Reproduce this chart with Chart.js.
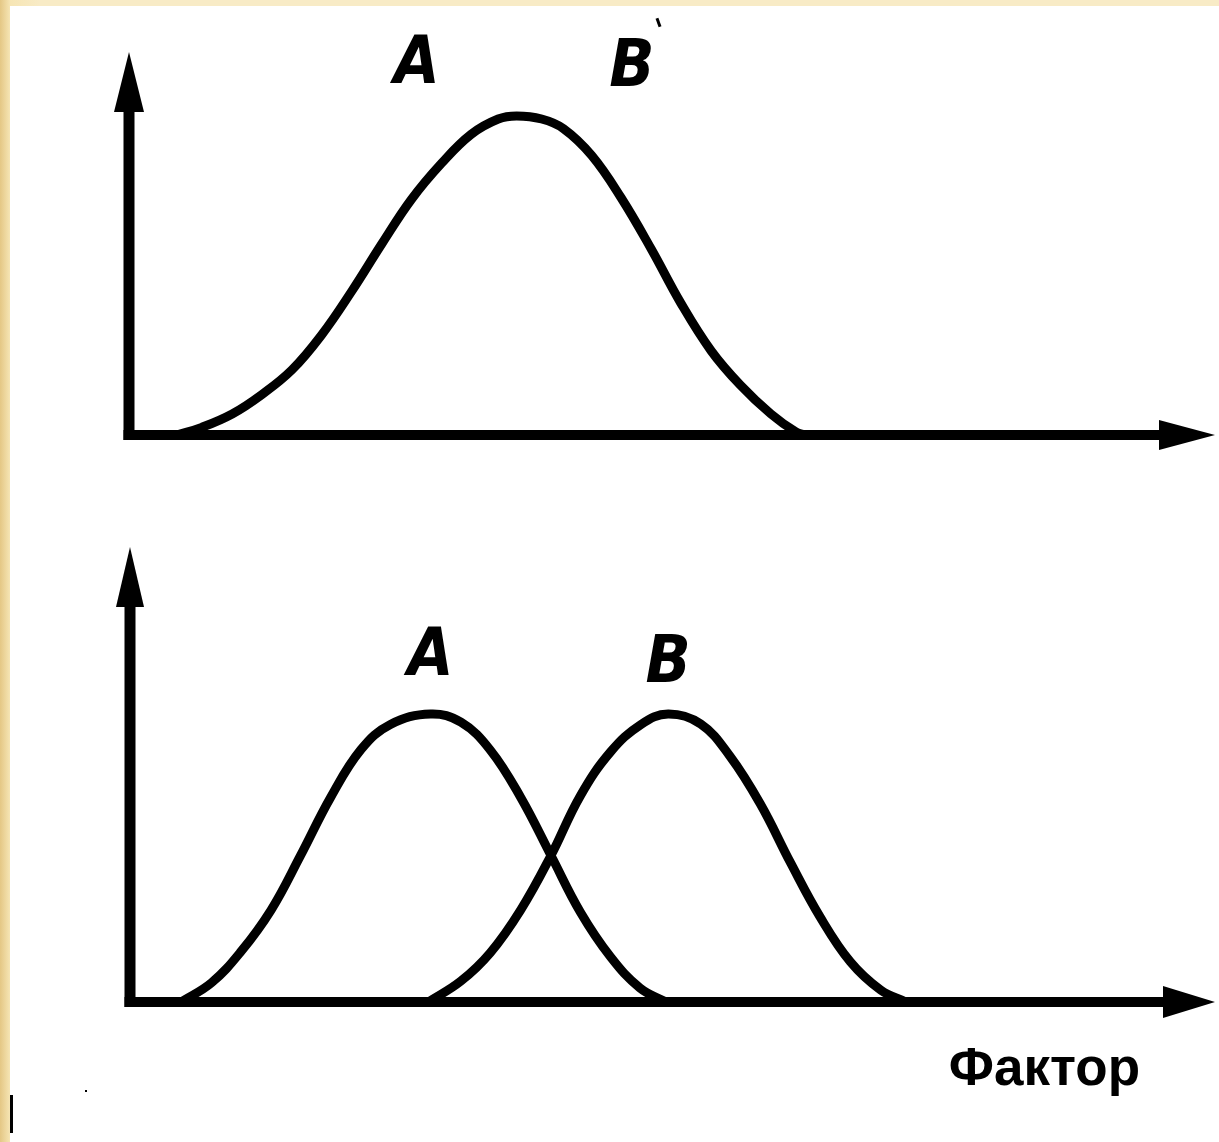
<!DOCTYPE html>
<html>
<head>
<meta charset="utf-8">
<title>Фактор</title>
<script src="https://cdn.jsdelivr.net/npm/chart.js@4/dist/chart.umd.min.js"></script>
<style>
  html, body { margin: 0; padding: 0; }
  body {
    width: 1219px; height: 1142px; position: relative; overflow: hidden;
    background: linear-gradient(to right, #e4c785 0px, #f6e5b4 10px, #f8ebc6 40px);
  }
  .sheet { position: absolute; left: 10px; top: 6px; right: 0; bottom: 0; background: #fff; }
  canvas { position: absolute; left: 0; }
  #topChart { top: 0; }
  #bottomChart { top: 470px; }
  .speck { position: absolute; background: #000; }
</style>
</head>
<body>
<div class="sheet"></div>
<canvas id="topChart" width="1219" height="470"></canvas>
<canvas id="bottomChart" width="1219" height="672"></canvas>
<div class="speck" style="left:10px;top:1095px;width:3px;height:38px;"></div>
<div class="speck" style="left:85px;top:1090px;width:2px;height:2px;"></div>
<div class="speck" style="left:657px;top:18px;width:3px;height:9px;transform:rotate(-20deg);"></div>

<script>
// Top panel: one wide curve (factor vs. frequency, arbitrary units 0..100)
const topFactor = [4.4, 6.7, 9.5, 12.2, 15.0, 17.7, 20.5, 23.3, 26.0, 28.8, 31.5, 34.0, 35.7, 38.0, 40.0, 42.6, 45.3, 48.1, 50.8, 53.6, 56.3, 59.1, 61.4, 62.3];
const topFreq   = [0, 2.0, 5.5, 10.5, 17.0, 26.0, 37.5, 50.0, 61.5, 71.0, 78.5, 82.5, 83.3, 82.5, 80.0, 73.0, 62.0, 48.5, 34.5, 22.0, 13.0, 5.5, 0.8, 0];

// Bottom panel: two separate curves A and B
const bottomFactorA = [4.7, 7.5, 10.2, 13.0, 15.7, 18.5, 21.3, 24.0, 27.7, 30.5, 33.2, 36.0, 38.8, 41.5, 44.3, 47.0, 49.4];
const bottomFreqA   = [0, 4.2, 11.0, 20.2, 32.1, 45.0, 55.5, 61.0, 63.3, 61.5, 55.4, 45.0, 32.2, 19.8, 9.9, 3.1, 0];
const bottomFactorB = [27.5, 30.5, 33.2, 36.0, 38.8, 41.5, 44.3, 47.1, 49.6, 52.6, 55.3, 58.1, 60.9, 63.6, 66.4, 69.2, 71.5];
const bottomFreqB   = [0, 4.6, 10.8, 20.2, 32.2, 45.3, 55.0, 61.0, 63.3, 61.1, 54.0, 43.5, 30.5, 18.7, 8.8, 2.6, 0];

// Curve names
const topLabels = ['A', 'B'];
const bottomLabels = ['A', 'B'];
const axisCaption = 'Фактор';

// Turn two arrays into {x, y} points
function toPoints(xs, ys) {
    return xs.map((x, i) => ({ x: x, y: ys[i] }));
}

function curve(points) {
    return {
        data: points,
        borderColor: '#000',
        borderWidth: 9,
        pointRadius: 0,
        fill: false,
        tension: 0.4,
        clip: false
    };
}

// Axes drawn as thick lines with arrow heads at the ends
const arrowAxes = {
    id: 'arrowAxes',
    afterDatasetsDraw(chart, args, opts) {
        const ctx = chart.ctx;
        const area = chart.chartArea;
        const x0 = chart.scales.x.getPixelForValue(0);
        const y0 = chart.scales.y.getPixelForValue(0);
        ctx.save();
        ctx.strokeStyle = '#000';
        ctx.fillStyle = '#000';
        ctx.lineCap = 'butt';

        // y axis
        ctx.lineWidth = opts.yWidth;
        ctx.beginPath();
        ctx.moveTo(x0, y0 + opts.xWidth / 2);
        ctx.lineTo(x0, area.top + opts.yHead - 4);
        ctx.stroke();
        ctx.beginPath();
        ctx.moveTo(x0, area.top);
        ctx.lineTo(x0 + opts.yHalf, area.top + opts.yHead);
        ctx.lineTo(x0 - opts.yHalf, area.top + opts.yHead);
        ctx.closePath();
        ctx.fill();

        // x axis
        ctx.lineWidth = opts.xWidth;
        ctx.beginPath();
        ctx.moveTo(x0 - opts.yWidth / 2, y0);
        ctx.lineTo(area.right - opts.xHead + 4, y0);
        ctx.stroke();
        ctx.beginPath();
        ctx.moveTo(area.right, y0);
        ctx.lineTo(area.right - opts.xHead, y0 - opts.xHalf);
        ctx.lineTo(area.right - opts.xHead, y0 + opts.xHalf);
        ctx.closePath();
        ctx.fill();
        ctx.restore();
    }
};

// Letters above the curves and the axis caption
const curveLabels = {
    id: 'curveLabels',
    afterDraw(chart, args, opts) {
        const ctx = chart.ctx;
        ctx.save();
        ctx.fillStyle = '#000';
        ctx.textBaseline = 'alphabetic';
        ctx.textAlign = 'center';
        ctx.font = 'italic bold 66px "Liberation Sans Narrow", "DejaVu Sans Condensed", sans-serif';
        (opts.items || []).forEach(item => {
            ctx.fillText(item.text, chart.scales.x.getPixelForValue(item.x), chart.scales.y.getPixelForValue(item.y));
        });
        if (opts.caption) {
            ctx.font = 'bold 53px "Liberation Sans", Arial, sans-serif';
            ctx.textAlign = 'right';
            ctx.fillText(opts.caption, chart.chartArea.right - 75, chart.chartArea.bottom + 83);
        }
        ctx.restore();
    }
};

function baseOptions(padding, axes, labels) {
    return {
        responsive: false,
        animation: false,
        devicePixelRatio: 1,
        layout: { padding: padding },
        scales: {
            x: { type: 'linear', min: 0, max: 100, display: false },
            y: { type: 'linear', min: 0, max: 100, display: false }
        },
        plugins: {
            legend: { display: false },
            tooltip: { enabled: false },
            arrowAxes: axes,
            curveLabels: labels
        }
    };
}

new Chart(document.getElementById('topChart').getContext('2d'), {
    type: 'line',
    data: { datasets: [curve(toPoints(topFactor, topFreq))] },
    options: baseOptions(
        { left: 129, right: 4, top: 52, bottom: 35 },
        { xWidth: 10, yWidth: 11, xHead: 56, xHalf: 15, yHead: 60, yHalf: 15 },
        { items: [
            { text: topLabels[0], x: 26.5, y: 92 },
            { text: topLabels[1], x: 46.3, y: 91 }
        ] }
    ),
    plugins: [arrowAxes, curveLabels]
});

new Chart(document.getElementById('bottomChart').getContext('2d'), {
    type: 'line',
    data: { datasets: [
        curve(toPoints(bottomFactorA, bottomFreqA)),
        curve(toPoints(bottomFactorB, bottomFreqB))
    ] },
    options: baseOptions(
        { left: 130, right: 4, top: 77, bottom: 140 },
        { xWidth: 10, yWidth: 11, xHead: 52, xHalf: 16, yHead: 60, yHalf: 14 },
        { items: [
            { text: bottomLabels[0], x: 27.7, y: 71.9 },
            { text: bottomLabels[1], x: 49.6, y: 70.3 }
        ], caption: axisCaption }
    ),
    plugins: [arrowAxes, curveLabels]
});
</script>
</body>
</html>
